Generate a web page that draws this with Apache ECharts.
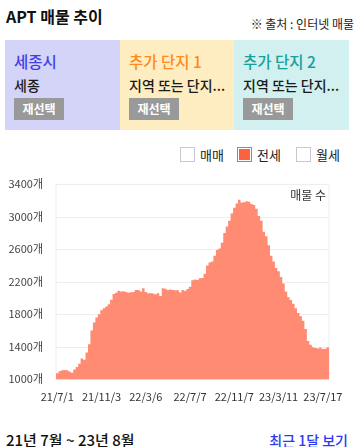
<!DOCTYPE html>
<html><head><meta charset="utf-8">
<script src="https://cdn.jsdelivr.net/npm/echarts@6/dist/echarts.min.js"></script>
<style>
body{margin:0;width:358px;height:447px;position:relative;background:#fff;font-family:'Noto Sans CJK KR','Noto Sans',sans-serif;overflow:hidden;color:#111}
.abs{position:absolute;white-space:nowrap}
.card{position:absolute;top:40px;height:90px}
.ct{position:absolute;left:9px;top:10px;font-size:15.5px;line-height:22px;font-weight:500}
.cs{position:absolute;left:9px;top:35px;font-size:14px;line-height:20px;color:#1a1a1a;font-weight:500}
.btn{position:absolute;left:9px;top:58px;width:50px;height:22px;background:#999;color:#fff;font-size:12px;font-weight:bold;line-height:22px;text-align:center}
.box{position:absolute;top:147px;width:13px;height:13px;border:1px solid #c8c8d0;background:#fff}
.lt{position:absolute;top:145px;font-size:13px;line-height:19px;color:#222}
#chart{position:absolute;left:0;top:170px;width:358px;height:245px}
</style></head><body>
<div class="abs" style="left:6px;top:5px;font-size:16px;font-weight:bold;line-height:22px">APT 매물 추이</div>
<div class="abs" style="right:4px;top:15px;font-size:12px;line-height:18px;color:#222">※ 출처 : 인터넷 매물</div>
<div class="card" style="left:5px;width:115px;background:#D4D4F9">
  <div class="ct" style="color:#3F3FE6">세종시</div>
  <div class="cs">세종</div>
  <div class="btn">재선택</div>
</div>
<div class="card" style="left:120px;width:114px;background:#FEEDC1">
  <div class="ct" style="color:#FF8A1E">추가 단지 1</div>
  <div class="cs">지역 또는 단지...</div>
  <div class="btn">재선택</div>
</div>
<div class="card" style="left:234px;width:115px;background:#D1F0EF">
  <div class="ct" style="color:#16A09C">추가 단지 2</div>
  <div class="cs">지역 또는 단지...</div>
  <div class="btn">재선택</div>
</div>
<div class="box" style="left:180px"></div><div class="lt" style="left:200px">매매</div>
<div class="box" style="left:237px;border-color:#FF6040;background:#FF6040;box-shadow:inset 0 0 0 1px #fff"></div><div class="lt" style="left:257px">전세</div>
<div class="box" style="left:296px"></div><div class="lt" style="left:316px">월세</div>
<div id="chart"></div>
<div class="abs" style="left:6px;top:430px;font-size:15px;line-height:20px;color:#111;font-weight:500">21년 7월 ~ 23년 8월</div>
<div class="abs" style="right:10px;top:430px;font-size:14px;line-height:20px;color:#2B3BF0;font-weight:500">최근 1달 보기</div>
<script>
const dates = [
"21/7/1","21/7/8","21/7/15","21/7/22","21/7/29","21/8/5","21/8/12","21/8/19","21/8/26","21/9/2",
"21/9/9","21/9/16","21/9/23","21/9/30","21/10/7","21/10/14","21/10/21","21/10/28","21/11/3",
"21/11/10","21/11/17","21/11/24","21/12/1","21/12/8","21/12/15","21/12/22","21/12/29","22/1/5","22/1/12",
"22/1/19","22/1/26","22/2/2","22/2/9","22/2/16","22/2/22","22/2/28","22/3/6",
"22/3/13","22/3/20","22/3/27","22/4/3","22/4/10","22/4/17","22/4/24","22/5/1","22/5/8","22/5/15",
"22/5/22","22/5/29","22/6/5","22/6/12","22/6/19","22/6/25","22/7/1","22/7/7",
"22/7/14","22/7/21","22/7/28","22/8/4","22/8/11","22/8/18","22/8/25","22/9/1","22/9/8","22/9/15",
"22/9/22","22/9/29","22/10/6","22/10/13","22/10/20","22/10/26","22/11/1","22/11/7",
"22/11/14","22/11/21","22/11/28","22/12/5","22/12/12","22/12/19","22/12/26","23/1/2","23/1/9","23/1/16",
"23/1/23","23/1/30","23/2/6","23/2/13","23/2/20","23/2/27","23/3/5","23/3/11",
"23/3/18","23/3/25","23/4/1","23/4/8","23/4/15","23/4/22","23/4/29","23/5/6","23/5/13","23/5/20",
"23/5/27","23/6/3","23/6/10","23/6/17","23/6/24","23/7/1","23/7/9","23/7/17",
"23/7/24","23/7/31"
];
const listings = [
1075,1100,1112,1115,1112,1095,1080,1120,1150,1190,
1255,1240,1330,1430,1600,1700,1760,1800,1850,1875,
1895,1925,1980,2050,2065,2090,2080,2085,2075,2065,
2070,2075,2100,2100,2080,2120,2075,2060,2058,2055,
2046,2058,2025,2122,2115,2100,2105,2100,2095,2095,
2068,2100,2090,2110,2140,2220,2228,2222,2245,2247,
2300,2400,2436,2450,2520,2590,2610,2680,2800,2880,
2950,3040,3110,3165,3210,3175,3180,3190,3185,3158,
3146,3100,3010,2950,2817,2760,2650,2520,2450,2370,
2330,2260,2180,2080,2010,1976,1930,1875,1815,1775,
1720,1620,1470,1425,1395,1385,1380,1390,1372,1375,
1395
];
const yTicks = {min:1000, max:3400, interval:400, unit:"개"};
const seriesName = "전세";
const axisTitle = "매물 수";

const chart = echarts.init(document.getElementById('chart'));
chart.setOption({
  animation:false,
  textStyle:{fontFamily:"'Noto Sans CJK KR','Noto Sans',sans-serif"},
  grid:{left:56,right:29,top:14.3,bottom:35.7,show:true,borderColor:'#eee',borderWidth:1},
  xAxis:{type:'category',data:dates,boundaryGap:true,
    axisLine:{show:false},axisTick:{show:false},
    axisLabel:{interval:17,color:'#333',fontSize:11,margin:12}},
  yAxis:{type:'value',min:yTicks.min,max:yTicks.max,interval:yTicks.interval,
    axisLine:{show:false},axisTick:{show:false},
    splitLine:{lineStyle:{color:'#eee'}},
    axisLabel:{formatter:v=>v+yTicks.unit,color:'#444',fontSize:11,margin:13}},
  graphic:[{type:'text',right:32,top:19,style:{text:axisTitle,fill:'#333',font:"12px 'Noto Sans CJK KR'"}}],
  series:[{name:seriesName,type:'bar',data:listings,barCategoryGap:'0%',
    large:true,largeThreshold:20,
    itemStyle:{color:'#FF8B73'}}]
});
</script>
</body></html>
